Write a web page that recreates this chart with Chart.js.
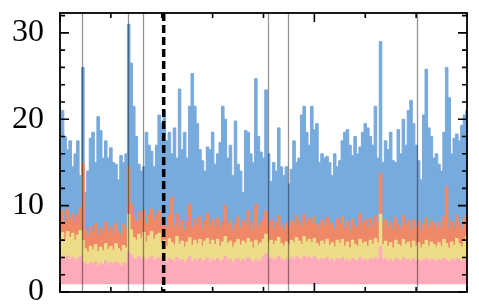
<!DOCTYPE html>
<html>
<head>
<meta charset="utf-8">
<script src="https://cdn.jsdelivr.net/npm/chart.js@4.4.1/dist/chart.umd.min.js"></script>
<style>
  html, body { margin: 0; padding: 0; background: #fff; }
  canvas { display: block; }
</style>
</head>
<body>
<canvas id="chart" width="479" height="304"></canvas>
<script>
// x spacing between samples (axis runs 0..400)
const X_STEP = 2.5;

// tops of each stacked band
const pinkTop = [
  3.9,4.1,3.8,4.2,3.7,4.0,3.6,3.9,4.1,3.5,
  3.3,3.1,3.4,3.2,3.5,3.0,3.3,3.2,3.6,3.1,
  3.4,3.2,3.5,3.3,3.0,3.4,3.2,4.6,4.3,3.9,
  3.7,4.1,3.8,4.0,3.6,3.9,4.2,3.7,3.9,4.0,
  3.6,3.8,3.4,3.9,3.7,3.5,4.0,3.6,3.8,3.4,
  3.7,4.1,3.5,3.8,3.6,3.9,3.4,3.7,4.0,3.5,
  3.8,3.6,3.9,3.5,3.7,4.1,3.6,3.8,3.4,3.7,
  3.9,3.5,3.8,3.6,4.0,3.7,3.4,3.8,3.5,3.7,
  4.1,4.4,3.8,4.0,3.7,3.9,4.1,3.8,3.6,3.9,
  3.7,4.0,3.8,4.1,3.9,3.7,4.2,3.9,4.0,3.8,
  4.1,3.8,3.6,3.9,3.7,4.0,3.6,3.8,3.5,3.9,
  3.7,4.0,3.6,3.8,3.5,3.9,3.7,3.6,4.0,3.7,
  3.8,3.6,3.9,3.7,4.0,3.8,5.2,3.7,3.9,3.6,
  3.8,3.5,3.9,3.7,3.6,4.0,3.7,3.8,3.5,3.9,
  3.6,3.8,3.5,3.7,3.9,3.6,3.8,3.7,3.5,3.8,
  3.6,3.9,3.7,3.5,3.8,3.6,3.9,3.7,3.5,3.8,3.6,
];

const yellowTop = [
  6.4,6.9,6.1,7.0,6.3,6.8,6.0,6.6,7.1,6.0,
  5.0,4.6,5.3,4.9,5.5,4.7,5.2,4.8,5.6,4.9,
  5.3,4.8,5.6,5.0,4.7,5.4,5.1,9.0,7.2,6.3,
  6.0,6.7,6.2,6.9,5.8,6.5,7.0,6.1,6.6,6.8,
  5.6,6.0,5.3,6.2,5.7,5.4,6.4,5.5,5.9,5.2,
  5.8,6.3,5.4,6.0,5.6,6.1,5.3,5.9,6.2,5.5,
  6.0,5.5,6.1,5.3,5.8,6.4,5.6,5.9,5.2,5.7,
  6.1,5.4,5.9,5.6,6.2,5.8,5.1,6.0,5.4,5.7,
  6.1,6.7,5.7,6.0,5.5,5.9,6.3,5.6,5.3,5.8,
  5.5,6.0,5.7,6.3,5.9,5.5,6.4,5.8,6.1,5.7,
  6.2,5.6,5.3,5.9,5.5,6.1,5.4,5.7,5.2,6.0,
  5.6,6.1,5.3,5.8,5.1,6.0,5.5,5.3,6.1,5.6,
  5.8,5.3,6.0,5.5,6.2,5.7,9.0,5.5,5.9,5.3,
  5.7,5.1,6.0,5.5,5.3,6.1,5.5,5.8,5.1,5.9,
  5.3,5.7,5.1,5.5,6.0,5.3,5.8,5.5,5.2,5.7,
  5.3,6.1,5.6,5.1,5.8,5.4,6.2,5.6,5.2,5.9,6.5,
];

const orangeTop = [
  8.6,9.4,8.2,9.6,8.4,9.1,8.0,8.9,9.8,14.9,
  7.2,6.5,7.6,6.9,7.9,6.6,7.4,6.8,8.1,7.0,
  7.5,6.8,8.0,7.1,6.6,7.8,7.3,14.5,10.2,8.8,
  8.2,9.3,8.4,9.5,7.9,8.9,9.6,8.3,9.0,9.4,
  7.7,8.4,7.4,8.9,11.0,7.5,9.1,7.6,8.3,7.2,
  8.1,10.2,7.5,8.5,7.8,8.7,7.3,8.2,9.2,7.7,
  8.4,7.6,8.6,7.4,8.1,10.0,7.8,8.3,7.2,7.9,
  8.7,7.5,8.3,7.8,9.5,8.1,7.1,10.2,7.5,8.0,
  8.4,9.4,7.6,8.3,7.3,8.1,8.8,7.7,7.2,8.0,
  7.5,8.3,7.9,8.8,8.2,7.6,9.0,8.1,8.5,7.8,
  8.7,7.8,7.3,8.3,7.7,8.6,7.5,8.0,7.2,8.5,
  7.8,8.7,7.4,8.2,7.1,8.5,7.7,7.4,9.1,8.0,
  8.3,7.4,8.5,7.7,8.8,8.1,13.7,7.8,8.4,7.5,
  8.1,7.1,8.6,7.8,7.4,8.9,7.8,8.3,7.2,8.4,
  7.5,8.2,7.1,7.8,8.6,7.5,8.3,7.9,7.3,8.1,
  7.5,8.7,12.2,7.2,8.2,7.6,8.9,8.0,7.3,8.5,9.1,
];

const blueTop = [
  14.5,21.0,18.0,16.5,17.5,14.5,16.0,17.5,13.5,26.0,
  11.5,14.0,17.8,18.5,15.0,20.3,18.7,15.5,17.5,15.5,
  16.7,15.0,14.8,13.0,15.8,15.0,16.0,31.0,26.5,21.5,
  18.0,14.8,14.0,14.5,18.5,17.0,16.3,14.5,17.0,20.5,
  19.5,21.0,17.5,18.5,16.0,19.0,15.5,23.5,16.5,18.5,
  15.5,21.5,25.3,21.5,19.5,16.5,15.2,14.0,16.8,16.5,
  18.5,14.8,16.0,17.3,21.5,20.0,15.5,17.0,13.5,19.8,
  14.8,14.0,11.5,18.7,18.5,16.0,15.0,24.7,18.0,16.2,
  15.5,23.4,16.0,12.8,15.0,14.0,19.0,14.5,13.5,14.5,
  12.5,14.2,17.5,15.0,15.5,20.5,21.5,18.5,17.0,21.5,
  18.8,19.5,15.0,16.0,15.5,15.7,15.0,13.5,16.0,14.5,
  15.2,17.5,18.5,18.8,17.0,15.8,18.0,16.0,16.8,18.5,
  19.5,19.0,18.0,17.0,21.5,15.5,29.0,15.0,17.5,16.5,
  18.5,15.2,15.0,18.8,16.0,20.0,17.0,21.0,22.2,19.5,
  17.0,15.2,13.0,20.5,25.8,19.0,18.0,15.5,16.0,14.8,
  14.0,18.5,26.0,22.5,16.0,17.8,18.3,17.5,19.3,20.5,21.0,
];

const pinkBase = 0.9;                     // white strip under the pink band
const grayLines = [21.4, 67.2, 82, 204.7, 224.3, 350.6];
const dashedLine = 101.9;
const yTicks = [0, 10, 20, 30];

function toPoints(values) {
  return values.map((v, i) => ({ x: i * X_STEP, y: v }));
}

function band(label, values, color, fill) {
  return {
    label,
    data: toPoints(values),
    borderColor: color,
    backgroundColor: color,
    borderWidth: 1,
    pointRadius: 0,
    stepped: "middle",
    fill,
  };
}

const framePlugin = {
  id: "frame",
  afterDatasetsDraw(chart) {
    const { ctx, chartArea: a, scales } = chart;
    const xs = scales.x;
    const ys = scales.y;
    ctx.save();

    // thin gray markers
    ctx.strokeStyle = "rgba(0,0,0,0.42)";
    ctx.lineWidth = 1.3;
    grayLines.forEach((v) => {
      const px = Math.round(xs.getPixelForValue(v)) + 0.5;
      ctx.beginPath();
      ctx.moveTo(px, a.top);
      ctx.lineTo(px, a.bottom);
      ctx.stroke();
    });

    // dashed marker
    ctx.strokeStyle = "#000";
    ctx.lineWidth = 3.5;
    ctx.setLineDash([8, 4]);
    const dx = xs.getPixelForValue(dashedLine);
    ctx.beginPath();
    ctx.moveTo(dx, a.top);
    ctx.lineTo(dx, a.bottom);
    ctx.stroke();
    ctx.setLineDash([]);

    // ticks, all pointing inward
    ctx.lineWidth = 1.6;
    for (let v = 0; v <= 32; v += 2) {
      const py = ys.getPixelForValue(v);
      const len = v % 10 === 0 ? 9 : 5;
      ctx.beginPath();
      ctx.moveTo(a.left, py);
      ctx.lineTo(a.left + len, py);
      ctx.moveTo(a.right, py);
      ctx.lineTo(a.right - len, py);
      ctx.stroke();
    }
    for (let v = 0; v <= 400; v += 50) {
      const px = xs.getPixelForValue(v);
      const len = v % 250 === 0 ? 9 : 5;
      ctx.beginPath();
      ctx.moveTo(px, a.top);
      ctx.lineTo(px, a.top + len);
      ctx.moveTo(px, a.bottom);
      ctx.lineTo(px, a.bottom - len);
      ctx.stroke();
    }

    // frame
    ctx.lineWidth = 1.8;
    ctx.strokeRect(a.left, a.top, a.right - a.left, a.bottom - a.top);
    ctx.restore();
  },
};

new Chart(document.getElementById("chart"), {
  type: "line",
  data: {
    datasets: [
      band("pink", pinkTop, "#FFAABB", { value: pinkBase }),
      band("yellow", yellowTop, "#EEDD88", "-1"),
      band("orange", orangeTop, "#EE8866", "-1"),
      band("blue", blueTop, "#77AADD", "-1"),
    ],
  },
  options: {
    responsive: false,
    animation: false,
    devicePixelRatio: 1,
    layout: { padding: { left: 0, right: 12, top: 13, bottom: 12 } },
    plugins: {
      legend: { display: false },
      tooltip: { enabled: false },
    },
    scales: {
      x: {
        type: "linear",
        min: 0,
        max: 400,
        display: false,
      },
      y: {
        min: 0,
        max: 32.3,
        grid: { display: false, drawTicks: false },
        border: { display: false },
        afterBuildTicks: (scale) => {
          scale.ticks = yTicks.map((v) => ({ value: v }));
        },
        afterFit: (scale) => {
          scale.width = 60;
          scale.paddingTop = 0;
          scale.paddingBottom = 0;
        },
        ticks: {
          padding: 16,
          color: "#000",
          font: { family: "Liberation Serif", size: 32 },
        },
      },
    },
  },
  plugins: [framePlugin],
});
</script>
</body>
</html>
